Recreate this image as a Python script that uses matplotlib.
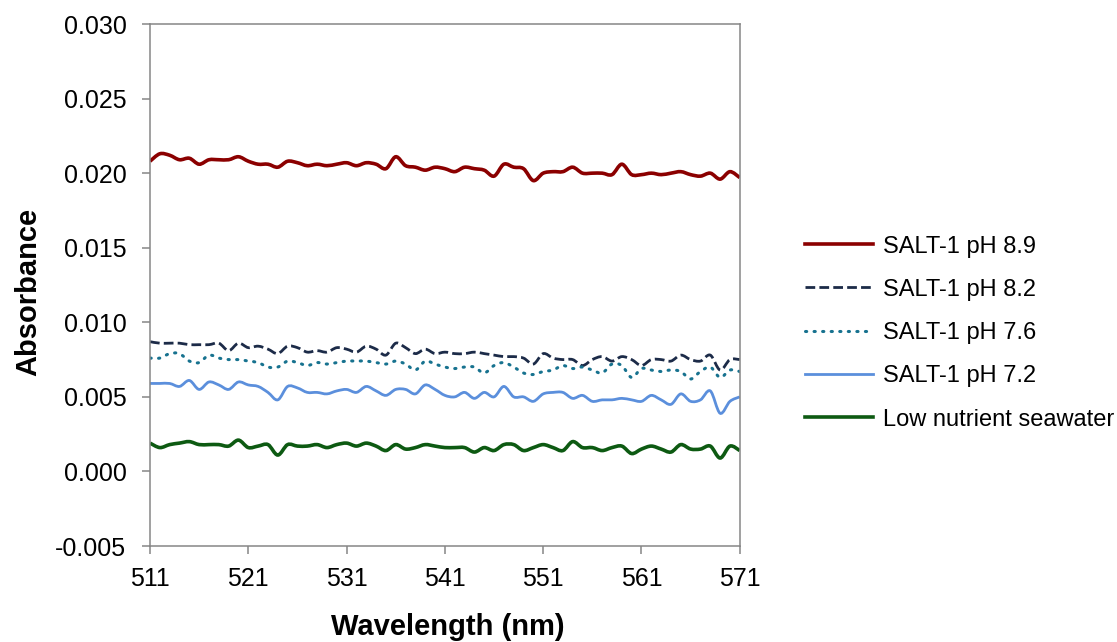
import numpy as np
import matplotlib.pyplot as plt
from matplotlib.path import Path
from matplotlib.patches import PathPatch
from matplotlib.lines import Line2D

plt.rcParams['font.family'] = ['Liberation Sans', 'DejaVu Sans']

# Wavelength (nm), one reading per nm
wl = np.arange(511, 572)

# Absorbance
ph89 = [0.0208, 0.0213, 0.0212, 0.0209, 0.0210, 0.0206, 0.0209, 0.0209, 0.0209, 0.0211,
        0.0208, 0.0206, 0.0206, 0.0204, 0.0208, 0.0207, 0.0205, 0.0206, 0.0205, 0.0206,
        0.0207, 0.0205, 0.0207, 0.0206, 0.0203, 0.0211, 0.0205, 0.0204, 0.0202, 0.0204,
        0.0203, 0.0201, 0.0204, 0.0203, 0.0202, 0.0198, 0.0206, 0.0204, 0.0203, 0.0195,
        0.0200, 0.0201, 0.0201, 0.0204, 0.0200, 0.0200, 0.0200, 0.0199, 0.0206, 0.0199,
        0.0199, 0.0200, 0.0199, 0.0200, 0.0201, 0.0199, 0.0198, 0.0200, 0.0196, 0.0201,
        0.0197]
ph82 = [0.0087, 0.0086, 0.0086, 0.0086, 0.0085, 0.0085, 0.0085, 0.0086, 0.0081, 0.0086,
        0.0083, 0.0084, 0.0082, 0.0079, 0.0084, 0.0083, 0.0080, 0.0081, 0.0080, 0.0083,
        0.0082, 0.0080, 0.0084, 0.0082, 0.0078, 0.0086, 0.0083, 0.0079, 0.0082, 0.0079,
        0.0080, 0.0079, 0.0079, 0.0080, 0.0079, 0.0078, 0.0077, 0.0077, 0.0076, 0.0072,
        0.0079, 0.0076, 0.0075, 0.0075, 0.0071, 0.0075, 0.0077, 0.0074, 0.0077, 0.0075,
        0.0071, 0.0075, 0.0075, 0.0074, 0.0078, 0.0075, 0.0074, 0.0078, 0.0068, 0.0075,
        0.0075]
ph76 = [0.0076, 0.0076, 0.0079, 0.0079, 0.0074, 0.0073, 0.0078, 0.0076, 0.0075, 0.0075,
        0.0074, 0.0073, 0.0070, 0.0070, 0.0074, 0.0073, 0.0071, 0.0073, 0.0072, 0.0073,
        0.0074, 0.0074, 0.0074, 0.0073, 0.0072, 0.0074, 0.0072, 0.0068, 0.0074, 0.0072,
        0.0070, 0.0069, 0.0070, 0.0070, 0.0066, 0.0071, 0.0073, 0.0070, 0.0066, 0.0065,
        0.0067, 0.0068, 0.0071, 0.0069, 0.0070, 0.0068, 0.0066, 0.0072, 0.0071, 0.0063,
        0.0069, 0.0068, 0.0067, 0.0068, 0.0067, 0.0062, 0.0067, 0.0070, 0.0063, 0.0068,
        0.0067]
ph72 = [0.0059, 0.0059, 0.0059, 0.0057, 0.0061, 0.0055, 0.0060, 0.0058, 0.0055, 0.0060,
        0.0058, 0.0057, 0.0053, 0.0048, 0.0057, 0.0056, 0.0053, 0.0053, 0.0052, 0.0054,
        0.0055, 0.0053, 0.0057, 0.0054, 0.0051, 0.0055, 0.0055, 0.0052, 0.0058, 0.0055,
        0.0051, 0.0050, 0.0053, 0.0049, 0.0053, 0.0050, 0.0057, 0.0050, 0.0050, 0.0047,
        0.0052, 0.0053, 0.0053, 0.0049, 0.0051, 0.0047, 0.0048, 0.0048, 0.0049, 0.0048,
        0.0047, 0.0051, 0.0048, 0.0045, 0.0052, 0.0047, 0.0048, 0.0054, 0.0039, 0.0047,
        0.0050]
seawater = [0.0019, 0.0016, 0.0018, 0.0019, 0.0020, 0.0018, 0.0018, 0.0018, 0.0017, 0.0021,
            0.0016, 0.0017, 0.0018, 0.0011, 0.0018, 0.0017, 0.0017, 0.0018, 0.0016, 0.0018,
            0.0019, 0.0017, 0.0019, 0.0017, 0.0014, 0.0018, 0.0015, 0.0016, 0.0018, 0.0017,
            0.0016, 0.0016, 0.0016, 0.0013, 0.0016, 0.0014, 0.0018, 0.0018, 0.0014, 0.0016,
            0.0018, 0.0016, 0.0014, 0.0020, 0.0016, 0.0016, 0.0014, 0.0016, 0.0017, 0.0012,
            0.0015, 0.0017, 0.0015, 0.0013, 0.0018, 0.0015, 0.0015, 0.0017, 0.0009, 0.0017,
            0.0014]

labels = ['SALT-1 pH 8.9', 'SALT-1 pH 8.2', 'SALT-1 pH 7.6', 'SALT-1 pH 7.2',
          'Low nutrient seawater']
xticks = [511, 521, 531, 541, 551, 561, 571]
yticks = np.arange(-0.005, 0.0301, 0.005)


def smooth_line(ax, x, y, **kw):
    # Excel-style smoothed line: Bezier segments through the data points
    p = np.column_stack((x, y)).astype(float)
    q = np.vstack((p[:1], p, p[-1:]))
    verts = [p[0]]
    for i in range(len(p) - 1):
        c1 = q[i + 1] + (q[i + 2] - q[i]) / 6
        c2 = q[i + 2] - (q[i + 3] - q[i + 1]) / 6
        verts += [c1, c2, p[i + 1]]
    codes = [Path.MOVETO] + [Path.CURVE4] * (len(verts) - 1)
    ax.add_patch(PathPatch(Path(verts, codes), fill=False, **kw))


styles = [
    dict(color='#8b0000', lw=2.6, linestyle='-'),
    dict(color='#1c2b48', lw=2.0, linestyle=(0, (3.5, 1.5))),
    dict(color='#17728f', lw=2.2, linestyle=(0, (0.4, 2.4)), capstyle='round'),
    dict(color='#5b8fdc', lw=2.0, linestyle='-'),
    dict(color='#0d5a12', lw=2.6, linestyle='-'),
]

fig = plt.figure(figsize=(11.17, 6.42), dpi=100)
ax = fig.add_axes([0.1343, 0.1495, 0.528, 0.8131])

handles = []
for y, st in zip([ph89, ph82, ph76, ph72, seawater], styles):
    smooth_line(ax, wl, y, **st)
    cap = st.get('capstyle', 'butt')
    handles.append(Line2D([], [], color=st['color'], lw=st['lw'],
                          linestyle=st['linestyle'], dash_capstyle=cap))

ax.set_xlim(511, 571)
ax.set_ylim(-0.005, 0.030)
ax.set_xticks(xticks)
ax.set_yticks(yticks)
ax.set_yticklabels(['%.3f' % v for v in yticks])

for s in ax.spines.values():
    s.set_color('#868686')
    s.set_linewidth(1.1)
ax.tick_params(colors='#868686', width=1.1, length=6, labelcolor='black',
               labelsize=18)
ax.tick_params(axis='y', pad=11)
ax.tick_params(axis='x', pad=9)

fig.text(0.5 * (318 + 578) / 1117, 1 - 627 / 642, 'Wavelength (nm)',
         fontsize=21, fontweight='bold', ha='center', va='center')
fig.text(28 / 1117, 1 - 292 / 642, 'Absorbance', rotation=90,
         fontsize=21, fontweight='bold', ha='center', va='center')

fig.legend(handles, labels, loc='center left',
           bbox_to_anchor=(805 / 1117, 1 - 333 / 642),
           frameon=False, fontsize=17, handlelength=2.9, handletextpad=0.4,
           labelspacing=0.9, borderpad=0, borderaxespad=0)

fig.savefig('out.png', dpi=100)
